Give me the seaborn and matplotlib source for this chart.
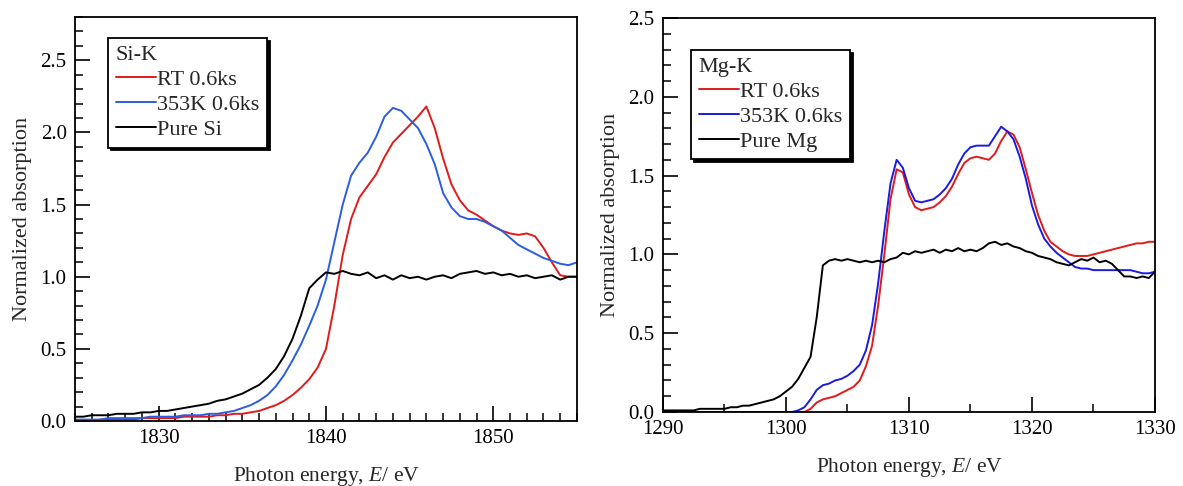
import numpy as np
import pandas as pd
import seaborn as sns
import matplotlib.pyplot as plt
from matplotlib.ticker import MultipleLocator

# ---- Si-K edge (left panel), sampled every 0.5 eV ----
si_energy = np.arange(1825, 1855.01, 0.5)
si_rt = [0.00, 0.00, 0.00, 0.01, 0.01, 0.01, 0.01, 0.01, 0.02, 0.02,
         0.02, 0.02, 0.02, 0.03, 0.03, 0.03, 0.03, 0.04, 0.04, 0.05,
         0.05, 0.06, 0.07, 0.09, 0.11, 0.14, 0.18, 0.23, 0.29, 0.37,
         0.50, 0.80, 1.15, 1.40, 1.55, 1.63, 1.71, 1.83, 1.93, 1.99,
         2.05, 2.11, 2.18, 2.03, 1.82, 1.64, 1.53, 1.46, 1.43, 1.39,
         1.35, 1.32, 1.30, 1.29, 1.30, 1.28, 1.20, 1.10, 1.01, 1.00,
         1.00]
si_353k = [0.01, 0.01, 0.01, 0.01, 0.02, 0.02, 0.02, 0.02, 0.02, 0.03,
           0.03, 0.03, 0.03, 0.04, 0.04, 0.04, 0.05, 0.05, 0.06, 0.07,
           0.09, 0.11, 0.14, 0.18, 0.24, 0.32, 0.42, 0.53, 0.66, 0.80,
           0.98, 1.24, 1.50, 1.70, 1.79, 1.86, 1.97, 2.11, 2.17, 2.15,
           2.09, 2.03, 1.92, 1.78, 1.58, 1.48, 1.42, 1.40, 1.40, 1.38,
           1.35, 1.32, 1.27, 1.22, 1.19, 1.16, 1.13, 1.11, 1.09, 1.08,
           1.10]
si_pure = [0.03, 0.03, 0.04, 0.04, 0.04, 0.05, 0.05, 0.05, 0.06, 0.06,
           0.07, 0.07, 0.08, 0.09, 0.10, 0.11, 0.12, 0.14, 0.15, 0.17,
           0.19, 0.22, 0.25, 0.30, 0.36, 0.45, 0.57, 0.73, 0.92, 0.98,
           1.03, 1.02, 1.04, 1.02, 1.01, 1.03, 0.99, 1.01, 0.98, 1.01,
           0.99, 1.00, 0.98, 1.00, 1.01, 0.99, 1.02, 1.03, 1.04, 1.02,
           1.03, 1.01, 1.02, 1.00, 1.01, 0.99, 1.00, 1.01, 0.98, 1.00,
           1.00]

# ---- Mg-K edge (right panel), sampled every 0.5 eV ----
mg_energy = np.arange(1290, 1330.01, 0.5)
mg_rt = [0.00, 0.00, 0.00, 0.00, 0.00, 0.00, 0.00, 0.00, 0.00, 0.00,
         0.00, 0.00, 0.00, 0.00, 0.00, 0.00, 0.00, 0.00, 0.00, 0.00,
         0.00, 0.00, 0.00, 0.00, 0.02, 0.06, 0.08, 0.09, 0.10, 0.12,
         0.14, 0.16, 0.20, 0.29, 0.42, 0.68, 1.00, 1.35, 1.54, 1.52,
         1.38, 1.30, 1.28, 1.29, 1.30, 1.33, 1.37, 1.43, 1.51, 1.58,
         1.61, 1.62, 1.61, 1.60, 1.64, 1.72, 1.78, 1.76, 1.68, 1.54,
         1.39, 1.25, 1.15, 1.08, 1.05, 1.02, 1.00, 0.99, 0.99, 0.99,
         1.00, 1.01, 1.02, 1.03, 1.04, 1.05, 1.06, 1.07, 1.07, 1.08,
         1.08]
mg_353k = [0.00, 0.00, 0.00, 0.00, 0.00, 0.00, 0.00, 0.00, 0.00, 0.00,
           0.00, 0.00, 0.00, 0.00, 0.00, 0.00, 0.00, 0.00, 0.00, 0.00,
           0.00, 0.00, 0.01, 0.03, 0.08, 0.14, 0.17, 0.18, 0.20, 0.21,
           0.23, 0.26, 0.30, 0.39, 0.55, 0.82, 1.15, 1.45, 1.60, 1.55,
           1.42, 1.34, 1.33, 1.34, 1.35, 1.38, 1.42, 1.48, 1.57, 1.64,
           1.68, 1.69, 1.69, 1.69, 1.75, 1.81, 1.78, 1.73, 1.62, 1.48,
           1.31, 1.19, 1.10, 1.05, 1.01, 0.98, 0.95, 0.92, 0.91, 0.91,
           0.90, 0.90, 0.90, 0.90, 0.90, 0.90, 0.90, 0.89, 0.88, 0.88,
           0.89]
mg_pure = [0.01, 0.01, 0.01, 0.01, 0.01, 0.01, 0.02, 0.02, 0.02, 0.02,
           0.02, 0.03, 0.03, 0.04, 0.04, 0.05, 0.06, 0.07, 0.08, 0.10,
           0.13, 0.16, 0.21, 0.28, 0.35, 0.60, 0.93, 0.96, 0.97, 0.96,
           0.97, 0.96, 0.95, 0.96, 0.95, 0.96, 0.95, 0.97, 0.98, 1.01,
           1.00, 1.02, 1.01, 1.02, 1.03, 1.01, 1.03, 1.02, 1.04, 1.02,
           1.03, 1.02, 1.04, 1.07, 1.08, 1.06, 1.07, 1.05, 1.04, 1.02,
           1.01, 0.99, 0.98, 0.97, 0.95, 0.94, 0.93, 0.95, 0.97, 0.96,
           0.98, 0.95, 0.96, 0.94, 0.90, 0.86, 0.86, 0.85, 0.86, 0.85,
           0.89]

si_labels = ['RT 0.6ks', '353K 0.6ks', 'Pure Si']
mg_labels = ['RT 0.6ks', '353K 0.6ks', 'Pure Mg']


def draw_panel(ax, energy, series, labels, colors, title, xlim, ylim,
               xmajor, xminor, leg_anchor):
    df = pd.DataFrame({'E': energy})
    for lab, vals in zip(labels, series):
        df[lab] = vals
    # 转成长表，方便用hue
    dfm = df.melt('E', var_name='sample', value_name='absorption')
    sns.lineplot(data=dfm, x='E', y='absorption', hue='sample',
                 palette=dict(zip(labels, colors)), estimator=None,
                 linewidth=1.4, ax=ax)

    ax.set_xlim(*xlim)
    ax.set_ylim(*ylim)
    ax.xaxis.set_major_locator(MultipleLocator(xmajor))
    ax.xaxis.set_minor_locator(MultipleLocator(xminor))
    ax.yaxis.set_major_locator(MultipleLocator(0.5))
    ax.yaxis.set_minor_locator(MultipleLocator(0.1))
    ax.yaxis.set_major_formatter(plt.FormatStrFormatter('%.1f'))
    ax.tick_params(which='major', direction='in', length=11, width=1.2,
                   bottom=True, left=True, top=False, right=False,
                   labelsize=15, color='black', labelcolor='black', pad=6)
    ax.tick_params(which='minor', direction='in', length=6, width=1.1,
                   bottom=True, left=True, top=False, right=False,
                   color='black')
    for sp in ax.spines.values():
        sp.set_visible(True)
        sp.set_color('black')
        sp.set_linewidth(1.3)

    ax.set_xlabel('Photon energy, $E$/ eV', fontsize=15.5, labelpad=12)
    ax.set_ylabel('Normalized absorption', fontsize=16, labelpad=6)

    handles, labs = ax.get_legend_handles_labels()
    leg = ax.legend(handles, labs, title=title, loc='upper left',
                    bbox_to_anchor=leg_anchor, fontsize=16,
                    title_fontsize=16, alignment='left',
                    frameon=True, fancybox=False, edgecolor='black',
                    framealpha=1, shadow={'color': 'black', 'alpha': 1},
                    handlelength=1.8, handletextpad=0.05, labelspacing=0.2,
                    borderpad=0.35, borderaxespad=0)
    leg.get_frame().set_linewidth(1.3)


sns.set_theme(style='ticks')
plt.rcParams['font.family'] = ['Liberation Serif', 'DejaVu Serif']
plt.rcParams['mathtext.fontset'] = 'custom'
plt.rcParams['mathtext.rm'] = 'Liberation Serif'
plt.rcParams['mathtext.it'] = 'Liberation Serif:italic'
plt.rcParams['xtick.direction'] = 'in'
plt.rcParams['ytick.direction'] = 'in'

fig = plt.figure(figsize=(11.83, 4.86), dpi=100)
ax1 = fig.add_axes([0.0634, 0.1337, 0.4243, 0.8313])
ax2 = fig.add_axes([0.5604, 0.1523, 0.4159, 0.8107])

draw_panel(ax1, si_energy, [si_rt, si_353k, si_pure], si_labels,
           ['#e01b1b', '#2a5de0', 'black'], 'Si-K', (1825, 1855), (0, 2.8),
           10, 1, (0.066, 0.948))
draw_panel(ax2, mg_energy, [mg_rt, mg_353k, mg_pure], mg_labels,
           ['#e01b1b', '#1a1ae0', 'black'], 'Mg-K', (1290, 1330), (0, 2.5),
           10, 5, (0.057, 0.919))

fig.savefig('out.png', dpi=100)
plt.close()
